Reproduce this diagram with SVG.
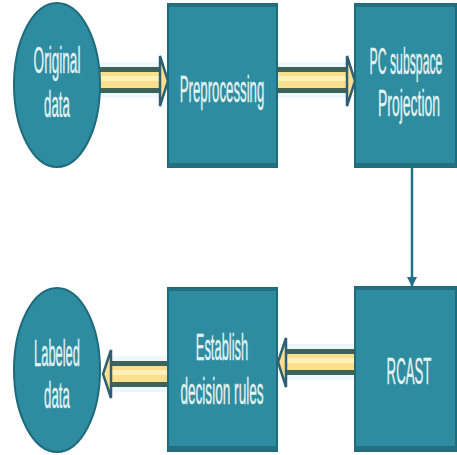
<svg xmlns="http://www.w3.org/2000/svg" width="457" height="455" viewBox="0 0 457 455">
  <style>
    .node { fill: #2d8ca0; stroke: #1f6b7c; stroke-width: 2; }
    .band { fill: #226f80; }
    .label { font-family: "Liberation Sans", "DejaVu Sans", sans-serif; font-size: 37px; fill: #e6f3f3; stroke: #e6f3f3; stroke-width: 0.4; text-anchor: middle; }
    .halo { fill: #eef7fb; }
    .shaft-edge { fill: #3e6459; }
    .shaft-fill { fill: #fbdf8c; }
    .shaft-shine { fill: #fff1b8; }
    .tip { fill: #fbdf8c; stroke: #2e5f74; stroke-width: 2.5; stroke-linejoin: miter; }
    .link { stroke: #23708a; stroke-width: 2.5; fill: none; }
  </style>
  <defs>
    <marker id="head" viewBox="0 0 10 10" refX="9" refY="5" markerWidth="4" markerHeight="4" orient="auto">
      <path d="M0,0 L10,5 L0,10 z" fill="#23708a"/>
    </marker>
  </defs>

  <rect width="457" height="455" fill="#ffffff"/>

  <!-- connectors -->
  <g id="connectors">
    <!-- Original data -> Preprocessing -->
    <g id="c1">
      <rect class="halo" x="100" y="62" width="62" height="36"/>
      <rect class="shaft-edge" x="100" y="67" width="62" height="26"/>
      <rect class="shaft-fill" x="100" y="72" width="62" height="16"/>
      <rect class="shaft-shine" x="100" y="76" width="62" height="5"/>
      <polygon class="tip" points="160,56 168,81 160,106 160,88 160,72"/>
    </g>
    <!-- Preprocessing -> PC subspace Projection -->
    <g id="c2">
      <rect class="halo" x="277" y="62" width="72" height="36"/>
      <rect class="shaft-edge" x="277" y="67" width="72" height="26"/>
      <rect class="shaft-fill" x="277" y="72" width="72" height="16"/>
      <rect class="shaft-shine" x="277" y="76" width="72" height="5"/>
      <polygon class="tip" points="347,56 355,81 347,106 347,88 347,72"/>
    </g>
    <!-- PC subspace Projection -> RCAST -->
    <line id="c3" class="link" x1="412" y1="168" x2="412" y2="286" marker-end="url(#head)"/>
    <!-- RCAST -> Establish decision rules -->
    <g id="c4">
      <rect class="halo" x="284" y="344" width="71" height="36"/>
      <rect class="shaft-edge" x="284" y="349" width="71" height="26"/>
      <rect class="shaft-fill" x="284" y="354" width="71" height="16"/>
      <rect class="shaft-shine" x="284" y="358" width="71" height="5"/>
      <polygon class="tip" points="286,338 278,362 286,387 286,370 286,354"/>
    </g>
    <!-- Establish decision rules -> Labeled data -->
    <g id="c5">
      <rect class="halo" x="109" y="356" width="59" height="36"/>
      <rect class="shaft-edge" x="109" y="361" width="59" height="26"/>
      <rect class="shaft-fill" x="109" y="366" width="59" height="16"/>
      <rect class="shaft-shine" x="109" y="370" width="59" height="5"/>
      <polygon class="tip" points="111,350 103,374 111,398 111,382 111,366"/>
    </g>
  </g>

  <!-- nodes (labels are set in a narrow, tall face via a horizontal squeeze) -->
  <g id="original-data">
    <ellipse class="node" cx="57" cy="85" rx="43" ry="82"/>
    <text class="label" transform="translate(57,73) scale(0.368,1)">Original</text>
    <text class="label" transform="translate(57,117) scale(0.358,1)">data</text>
  </g>

  <g id="preprocessing">
    <rect class="node" x="168" y="4" width="109" height="163"/>
    <rect class="band" x="168" y="4" width="109" height="3"/>
    <rect class="band" x="168" y="163" width="109" height="4"/>
    <text class="label" transform="translate(222,102) scale(0.358,1)">Preprocessing</text>
  </g>

  <g id="pc-projection">
    <rect class="node" x="355" y="4" width="101" height="163"/>
    <rect class="band" x="355" y="4" width="101" height="3"/>
    <rect class="band" x="355" y="163" width="101" height="4"/>
    <text class="label" transform="translate(406,74) scale(0.331,1)">PC subspace</text>
    <text class="label" transform="translate(409,116) scale(0.377,1)">Projection</text>
  </g>

  <g id="rcast">
    <rect class="node" x="355" y="287" width="101" height="164"/>
    <rect class="band" x="355" y="287" width="101" height="3"/>
    <rect class="band" x="355" y="446" width="101" height="5"/>
    <text class="label" transform="translate(409,384) scale(0.358,1)">RCAST</text>
  </g>

  <g id="establish-rules">
    <rect class="node" x="168" y="288" width="109" height="163"/>
    <rect class="band" x="168" y="288" width="109" height="3"/>
    <rect class="band" x="168" y="446" width="109" height="5"/>
    <text class="label" transform="translate(222,360) scale(0.349,1)">Establish</text>
    <text class="label" transform="translate(222,404) scale(0.368,1)">decision rules</text>
  </g>

  <g id="labeled-data">
    <ellipse class="node" cx="57" cy="370" rx="43" ry="82"/>
    <text class="label" transform="translate(57,366) scale(0.349,1)">Labeled</text>
    <text class="label" transform="translate(57,408) scale(0.358,1)">data</text>
  </g>
</svg>
